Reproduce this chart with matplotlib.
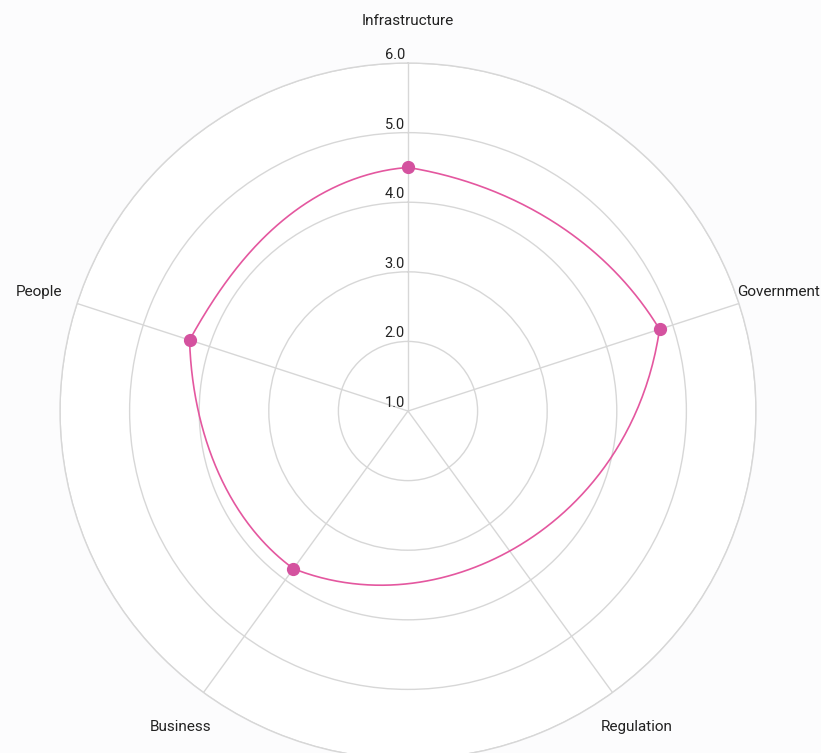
import numpy as np
import matplotlib.pyplot as plt

# Radar scores per pillar (Regulation has no score, the line spans the gap)
categories = ["Infrastructure", "Government", "Regulation", "Business", "People"]
scores = [4.5, 4.8, None, 3.8, 4.3]
tick_values = [1.0, 2.0, 3.0, 4.0, 5.0, 6.0]
r_min, r_max = 1.0, 6.0

# How fast the line leaves / reaches each scored point, in score units per radian
slope_in = [0.26, 0.89, None, 0.72, 1.18]
slope_out = [-0.57, -1.87, None, 0.0, -0.63]

line_color = "#e4579f"
point_color = "#d4529f"
grid_color = "#d7d7d7"
text_color = "#222222"

plt.rcParams["font.family"] = ["Roboto", "DejaVu Sans"]


# Cubic hermite between two scored axes, evaluated along the angle
def hermite(t0, t1, r0, r1, m0, m1, steps=120):
    s = np.linspace(0, 1, steps)
    h = t1 - t0
    h00 = 2 * s**3 - 3 * s**2 + 1
    h10 = s**3 - 2 * s**2 + s
    h01 = -2 * s**3 + 3 * s**2
    h11 = s**3 - s**2
    return t0 + s * h, h00 * r0 + h10 * h * m0 + h01 * r1 + h11 * h * m1


n_axes = len(categories)
angles = np.arange(n_axes) * 2 * np.pi / n_axes
valid = [i for i, s in enumerate(scores) if s is not None]

line_t, line_r = [], []
for k, i in enumerate(valid):
    j = valid[(k + 1) % len(valid)]
    t0, t1 = angles[i], angles[j]
    if t1 <= t0:
        t1 += 2 * np.pi
    tt, rr = hermite(t0, t1, scores[i], scores[j], slope_out[i], slope_in[j])
    line_t.append(tt)
    line_r.append(rr)
line_t = np.concatenate(line_t)
line_r = np.concatenate(line_r)

fig = plt.figure(figsize=(8.21, 7.53), dpi=100, facecolor="#fcfcfd")
ax = fig.add_axes([0.0731, -0.008, 0.8477, 0.9243], projection="polar")
ax.set_facecolor("white")
ax.set_theta_zero_location("N")
ax.set_theta_direction(-1)
ax.set_ylim(r_min, r_max)

ax.set_rgrids(tick_values, labels=[""] * len(tick_values))
ax.set_thetagrids(np.degrees(angles), labels=[""] * n_axes)
ax.grid(True, color=grid_color, linewidth=1.0)
ax.spines["polar"].set_color(grid_color)
ax.spines["polar"].set_linewidth(1.0)
ax.tick_params(length=0)

ax.plot(line_t, line_r, color=line_color, linewidth=1.2, zorder=3)
ax.plot(angles[valid], [scores[i] for i in valid], "o", color=point_color,
        markersize=8.5, zorder=4)

# Scale labels up the top axis
for v in tick_values:
    ax.annotate(f"{v:.1f}", xy=(0, v), xytext=(-3, 8), textcoords="offset pixels",
                ha="right", va="center", fontsize=10.5, color=text_color)

# Axis names around the outer ring
label_offsets = [(0, 42, "center"), (-2, 11, "left"), (24, -34, "center"),
                 (-23, -34, "center"), (-15, 11, "right")]
for name, ang, (dx, dy, ha) in zip(categories, angles, label_offsets):
    ax.annotate(name, xy=(ang, r_max), xytext=(dx, dy), textcoords="offset pixels",
                ha=ha, va="center", fontsize=11, color=text_color, annotation_clip=False)

fig.savefig("out.png", dpi=100, facecolor=fig.get_facecolor())
